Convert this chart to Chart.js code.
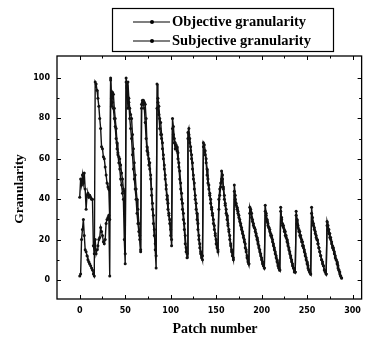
<!DOCTYPE html>
<html>
<head>
<meta charset="utf-8">
<script src="https://cdn.jsdelivr.net/npm/chart.js@4"></script>
<style>
html,body{margin:0;padding:0;background:#fff;}
#c{display:block;}
</style>
</head>
<body>
<canvas id="c" width="368" height="339"></canvas>
<script>
// Values (17 groups of 17 patches each)
const objective = [
 41,50,47,52,48,53,45,35,42,43,41,42,41,40,40,17,13,
 20,13,15,17,20,21,26,24,22,19,18,20,28,30,31,32,2,
 100,86,93,92,85,80,75,68,63,61,60,57,53,50,45,44,13,
 100,96,98,90,85,82,80,72,65,58,52,45,40,35,28,22,15,
 87,89,89,88,87,80,66,63,60,58,52,45,38,32,25,15,6,
 97,90,86,80,78,72,68,62,57,52,47,42,38,33,30,25,17,
 80,76,70,68,67,66,63,58,54,48,43,38,33,28,22,16,11,
 73,75,70,66,62,58,52,48,42,38,33,28,22,18,14,12,10,
 68,67,64,60,55,50,47,43,40,36,33,30,27,23,20,17,15,
 40,45,48,54,50,46,42,38,35,32,28,25,22,18,15,12,10,
 47,42,38,36,34,32,30,28,26,24,22,20,18,15,12,10,8,
 36,34,33,30,28,26,25,23,21,19,17,15,13,11,9,7,6,
 37,33,30,28,26,25,23,21,20,18,16,14,12,10,8,6,5,
 36,30,28,27,25,24,22,20,18,16,14,12,10,8,6,5,4,
 34,30,27,25,24,22,20,19,17,15,13,11,9,7,5,4,3,
 36,31,28,26,24,22,20,18,16,14,12,10,8,7,5,4,3,
 29,27,25,23,21,19,17,16,14,12,10,9,7,5,4,2,1
];
const subjective = [
 2,3,20,25,30,22,15,14,12,10,9,8,7,6,5,3,2,
 98,97,94,90,86,80,75,66,65,61,60,56,52,48,46,45,30,
 99,90,88,85,80,76,70,65,62,58,55,50,47,43,40,20,8,
 98,95,85,88,80,75,70,62,55,50,45,40,33,28,24,20,14,
 85,88,87,85,78,70,64,62,57,55,50,42,35,28,22,18,12,
 85,88,82,75,72,70,65,60,55,50,45,40,35,32,28,22,20,
 75,72,68,65,66,64,60,56,50,45,40,35,30,25,18,14,13,
 70,72,68,64,60,55,50,45,40,35,30,25,20,16,13,11,12,
 66,64,62,58,52,48,45,42,38,35,32,28,25,22,18,16,14,
 35,42,46,50,52,45,40,37,33,30,27,24,20,17,14,12,11,
 44,40,37,35,33,31,29,27,25,23,21,19,16,14,11,9,8,
 33,35,31,29,27,26,24,22,20,18,16,14,12,10,8,7,6,
 34,32,29,27,26,24,22,22,19,17,15,13,11,9,7,6,5,
 34,31,27,26,24,22,21,19,17,15,13,11,9,7,6,4,4,
 32,28,26,24,22,21,19,17,16,14,12,10,8,6,5,4,3,
 33,29,27,25,23,21,20,18,16,14,12,10,9,7,5,4,3,
 27,25,23,21,20,18,16,15,13,11,10,8,6,5,3,2,1
];
const patchNumbers = objective.map((_, i) => i);
const xTickLabels = [0, 50, 100, 150, 200, 250, 300];
const xMinorTicks = [25, 75, 125, 175, 225, 275];
const yTickLabels = [0, 20, 40, 60, 80, 100];
const yMinorTicks = [10, 30, 50, 70, 90];
const seriesNames = ['Objective granularity', 'Subjective granularity'];

const toPts = arr => arr.map((v, i) => ({x: patchNumbers[i], y: v}));

const decor = {
  id: 'decor',
  afterDraw(chart) {
    const {ctx, chartArea: a, scales: {x, y}} = chart;
    ctx.save();
    ctx.strokeStyle = '#000';
    ctx.fillStyle = '#000';
    ctx.lineWidth = 1.3;
    ctx.strokeRect(a.left, a.top, a.right - a.left, a.bottom - a.top);
    ctx.lineWidth = 1;
    ctx.beginPath();
    const xt = (v, len) => {
      const px = Math.round(x.getPixelForValue(v)) + 0.5;
      ctx.moveTo(px, a.bottom); ctx.lineTo(px, a.bottom - len);
      ctx.moveTo(px, a.top); ctx.lineTo(px, a.top + len);
    };
    xTickLabels.forEach(v => xt(v, 4));
    xMinorTicks.forEach(v => xt(v, 2.5));
    const yt = (v, len) => {
      const py = Math.round(y.getPixelForValue(v)) + 0.5;
      ctx.moveTo(a.left, py); ctx.lineTo(a.left + len, py);
      ctx.moveTo(a.right, py); ctx.lineTo(a.right - len, py);
    };
    yTickLabels.forEach(v => yt(v, 4));
    yMinorTicks.forEach(v => yt(v, 2.5));
    ctx.stroke();

    // legend box
    ctx.lineWidth = 1.2;
    ctx.strokeRect(112.5, 8.5, 221, 43);
    ctx.font = 'bold 14.5px "Liberation Serif", "DejaVu Serif", serif';
    ctx.textBaseline = 'middle';
    ctx.textAlign = 'left';
    [22, 41].forEach((ly, i) => {
      ctx.beginPath();
      ctx.lineWidth = 1.2;
      ctx.moveTo(133, ly); ctx.lineTo(170, ly);
      ctx.stroke();
      ctx.beginPath();
      ctx.arc(152, ly, 2, 0, Math.PI * 2);
      ctx.fill();
      ctx.fillText(chart.data.datasets[i].label, 172, ly);
    });

    // axis titles
    ctx.font = 'bold 14px "Liberation Serif", "DejaVu Serif", serif';
    ctx.textAlign = 'center';
    ctx.fillText('Patch number', 215, 329);
    ctx.save();
    ctx.translate(20, 189);
    ctx.rotate(-Math.PI / 2);
    ctx.font = 'bold 13.5px "Liberation Serif", "DejaVu Serif", serif';
    ctx.fillText('Granularity', 0, 0);
    ctx.restore();
    ctx.restore();
  }
};

const tickFont = {family: '"DejaVu Sans", sans-serif', size: 8, weight: 'bold'};

new Chart(document.getElementById('c'), {
  type: 'line',
  data: {
    datasets: [
      {label: seriesNames[0], data: toPts(objective), borderColor: '#111', backgroundColor: '#111',
       borderWidth: 1.4, pointRadius: 1.5, pointBorderWidth: 0, tension: 0},
      {label: seriesNames[1], data: toPts(subjective), borderColor: '#111', backgroundColor: '#111',
       borderWidth: 1.4, pointRadius: 1.5, pointBorderWidth: 0, tension: 0}
    ]
  },
  options: {
    responsive: false,
    animation: false,
    devicePixelRatio: 1,
    layout: {padding: {top: 56, left: 0, right: 2, bottom: 0}},
    plugins: {legend: {display: false}, tooltip: {enabled: false}},
    scales: {
      x: {
        type: 'linear', min: -25, max: 310,
        grid: {display: false, drawTicks: false},
        border: {display: false},
        afterBuildTicks: s => { s.ticks = xTickLabels.map(v => ({value: v})); },
        afterFit: s => { s.height = 40; },
        ticks: {font: tickFont, color: '#000', padding: 7, maxRotation: 0, autoSkip: false}
      },
      y: {
        type: 'linear', min: -9.4, max: 110.9,
        grid: {display: false, drawTicks: false},
        border: {display: false},
        afterBuildTicks: s => { s.ticks = yTickLabels.map(v => ({value: v})); },
        afterFit: s => { s.width = 57; },
        ticks: {font: tickFont, color: '#000', padding: 7, autoSkip: false}
      }
    }
  },
  plugins: [decor]
});
</script>
</body>
</html>
